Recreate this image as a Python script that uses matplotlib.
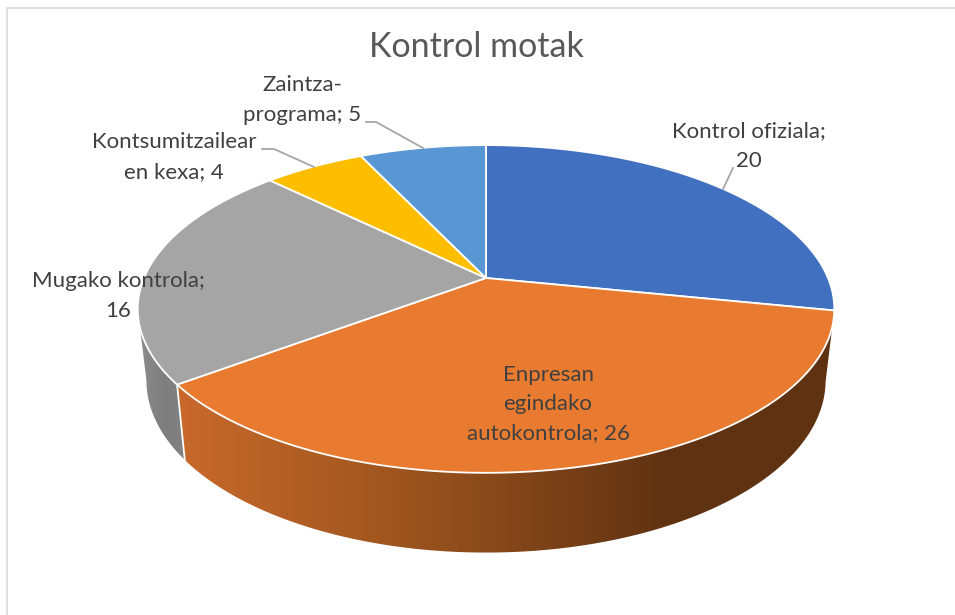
import numpy as np
import matplotlib
matplotlib.use("Agg")
import matplotlib.pyplot as plt
from matplotlib.patches import Polygon
from matplotlib.colors import LinearSegmentedColormap

title = "Kontrol motak"
categories = ["Kontrol ofiziala", "Enpresan egindako autokontrola", "Mugako kontrola",
              "Kontsumitzailearen kexa", "Zaintza-programa"]
values = [20, 26, 16, 4, 5]
label_texts = ["Kontrol ofiziala;\n20", "Enpresan\negindako\nautokontrola; 26",
               "Mugako kontrola;\n16", "Kontsumitzailear\nen kexa; 4", "Zaintza-\nprograma; 5"]
colors = ["#4270C0", "#E97B30", "#A5A5A5", "#FDBE00", "#5896D4"]
label_pos = [(749, 146), (548, 404), (118, 296), (174, 157), (302, 100)]
leaders = [[(733, 168), (723, 189)],
           [(262, 149), (274, 149), (314, 167)],
           [(366, 122), (376, 122), (423, 148)]]

plt.rcParams["font.family"] = ["Lato", "DejaVu Sans"]
fig = plt.figure(figsize=(9.55, 6.15), dpi=100)
ax = fig.add_axes([0, 0, 1, 1])
ax.set_xlim(0, 955)
ax.set_ylim(615, 0)
ax.axis("off")

# pie geometry: perspective projection of a circle
CX, CY = 486, 278
P, A, B = 0.189, 158, 342
WX, WY, DEPTH = 0.975, 1.05, 70


def top(t):
    x, y = np.cos(t), np.sin(t)
    w = 1 + P * y
    return CX + B * x / w, CY - A * y / w


def bottom(t):
    x, y = np.cos(t), np.sin(t)
    w = 1 + P * y
    return CX + WX * B * x / w, CY + DEPTH - WY * A * y / w


vals = np.array(values, float)
edges = np.pi / 2 - 2 * np.pi * np.concatenate([[0], np.cumsum(vals)]) / vals.sum()


def wall(t0, t1):
    t = np.linspace(t0, t1, 200)
    tx, ty = top(t)
    bx, by = bottom(t)
    return np.column_stack([np.r_[tx, bx[::-1]], np.r_[ty, by[::-1]]])


# grey wall, up to the widest point of the rim
silhouette = -np.pi + np.arcsin(P)
gw = wall(edges[2], silhouette)
grey_cmap = LinearSegmentedColormap.from_list("g", ["#8f8f8f", "#7d7d7d", "#858585"])
poly = Polygon(gw, closed=True, fc="none", ec="none")
ax.add_patch(poly)
im = ax.imshow(np.linspace(0, 1, 256)[None, :], cmap=grey_cmap, extent=[135, 195, 560, 300],
               aspect="auto", zorder=1)
im.set_clip_path(poly)

# orange wall, gradient runs dark to the right
ow = wall(edges[1], edges[2])
orange_cmap = LinearSegmentedColormap.from_list(
    "o", [(0, "#C8692B"), (0.32, "#A0561F"), (0.75, "#5F3212"), (1, "#5F3212")])
poly2 = Polygon(ow, closed=True, fc="none", ec="none")
ax.add_patch(poly2)
im2 = ax.imshow(np.linspace(0, 1, 256)[None, :], cmap=orange_cmap, extent=[178, 835, 560, 300],
                aspect="auto", zorder=2)
im2.set_clip_path(poly2)
ax.set_xlim(0, 955)
ax.set_ylim(615, 0)
bx0, by0 = bottom(edges[2])
tx0, ty0 = top(edges[2])
ax.plot([tx0, bx0], [ty0, by0], color="white", lw=1.3, zorder=3)

# top faces
for i, c in enumerate(colors):
    t = np.linspace(edges[i], edges[i + 1], 200)
    x, y = top(t)
    pts = np.column_stack([np.r_[CX, x], np.r_[CY, y]])
    ax.add_patch(Polygon(pts, closed=True, fc=c, ec="white", lw=1.3, joinstyle="round", zorder=4))

# leader lines
for seg in leaders:
    xs, ys = zip(*seg)
    ax.plot(xs, ys, color="#A6A6A6", lw=1.3, zorder=5)

for txt, (x, y) in zip(label_texts, label_pos):
    ax.text(x, y, txt, ha="center", va="center", fontsize=16, color="#404040",
            linespacing=1.58, zorder=6)

ax.text(476, 47, title, ha="center", va="center", fontsize=24.5, color="#595959", zorder=6)

# frame: left and top edges only
ax.plot([6.5, 6.5, 955], [615, 8, 8], color="#D9D9D9", lw=1.2, zorder=0)

fig.savefig("out.png", dpi=100)
